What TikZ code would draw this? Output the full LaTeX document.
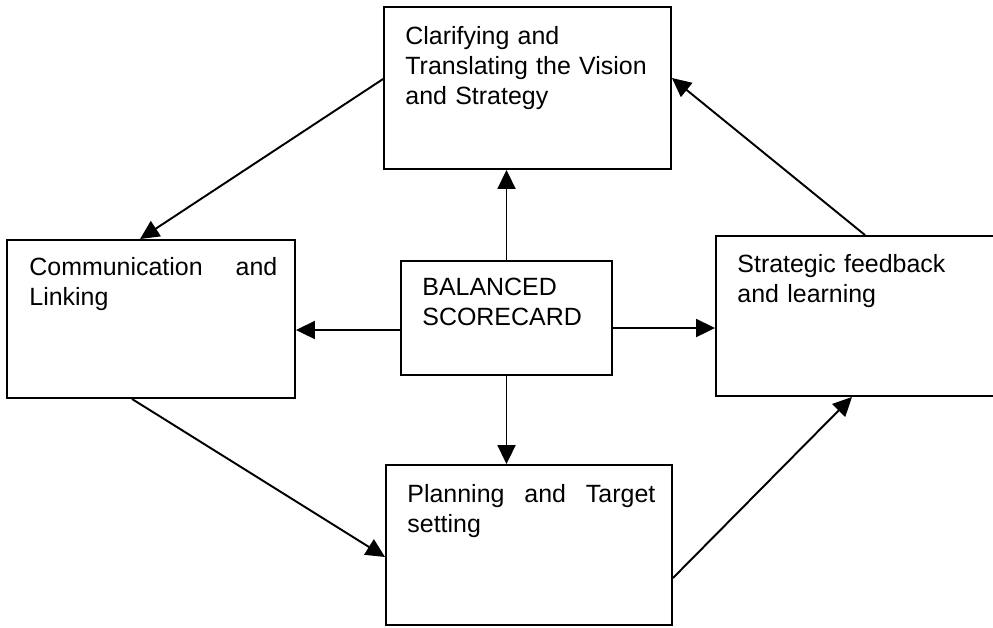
\documentclass[tikz,border=0pt]{standalone}
\usepackage{fontspec}
\setmainfont{Liberation Sans}
\usetikzlibrary{arrows.meta}

\begin{document}
\begin{tikzpicture}[x=0.02cm,y=-0.02cm]
\useasboundingbox (0,0) rectangle (993,627);
\begin{scope}[every node/.style={rectangle,draw,line width=1.1pt}]
    \node[minimum width=5.74cm,minimum height=3.24cm] (clar) at (527.5,88) {};
    \node[minimum width=5.76cm,minimum height=3.16cm] (comm) at (151,319) {};
    \node[minimum width=4.22cm,minimum height=2.28cm] (bsc) at (506.5,318) {};
    \node[minimum width=5.80cm,minimum height=3.20cm] (feed) at (861,316) {};
    \node[minimum width=5.72cm,minimum height=3.20cm] (plan) at (529,545) {};
\end{scope}

\begin{scope}[every node/.style={anchor=north west,inner sep=0pt,align=left,
              text width=4.96cm,font=\fontsize{14.2}{17.1}\selectfont}]
    \node (clar-t) at ([shift={(22,20)}]clar.north west) {Clarifying and\\Translating the Vision\\and Strategy};
    \node (comm-t) at ([shift={(23,18)}]comm.north west) {Communication\hfill and\\Linking};
    \node (bsc-t) at ([shift={(22,18)}]bsc.north west) {BALANCED\\SCORECARD};
    \node (feed-t) at ([shift={(22,19)}]feed.north west) {Strategic feedback\\and learning};
    \node (plan-t) at ([shift={(22,20)}]plan.north west) {Planning\hfill and\hfill Target\\setting};
\end{scope}

\coordinate (bl) at ([shift={(0,12)}]bsc.west);
\coordinate (br) at ([shift={(0,10)}]bsc.east);

\begin{scope}[every edge/.style={draw=black,line width=1.1pt,
              -{Triangle[length=0.38cm,width=0.36cm]}}]
    \path (bsc.north) edge (bsc.north |- clar.south);
    \path (bsc.south) edge (bsc.south |- plan.north);
    \path (bl) edge (bl -| comm.east);
    \path (br) edge (br -| feed.west);
    \path ([shift={(0,-9)}]clar.west) edge ([shift={(-11,0)}]comm.north);
    \path ([shift={(-19,0)}]comm.south) edge ([shift={(0,12)}]plan.west);
    \path ([shift={(0,33)}]plan.east) edge ([shift={(-9,0)}]feed.south);
    \path ([shift={(4,0)}]feed.north) edge ([shift={(0,-10)}]clar.east);
\end{scope}
\end{tikzpicture}
\end{document}
